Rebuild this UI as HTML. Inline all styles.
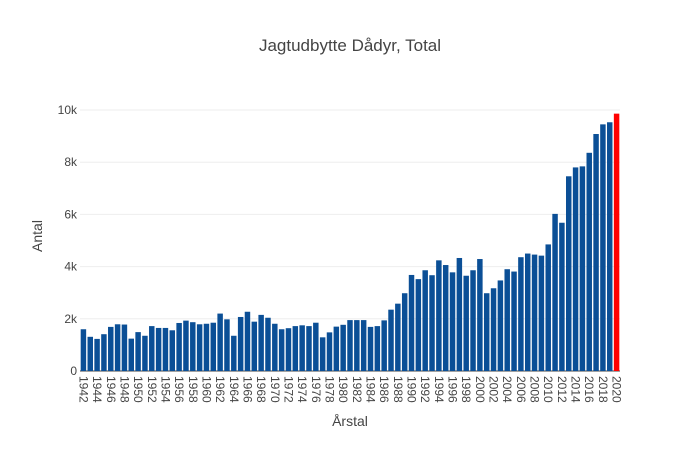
<!DOCTYPE html>
<html><head><meta charset="utf-8"><style>body{margin:0;background:#fff}svg{font-family:"Liberation Sans",sans-serif}</style></head>
<body>
<svg id="c" width="700" height="450" xmlns="http://www.w3.org/2000/svg">
<text x="350" y="51" text-anchor="middle" font-size="17" fill="#444">Jagtudbytte Dådyr, Total</text>
<text x="350" y="426" text-anchor="middle" font-size="14" fill="#444">Årstal</text>
<text transform="translate(42,236) rotate(-90)" text-anchor="middle" font-size="14" fill="#444">Antal</text>
<g id="grid"></g><g id="bars"></g><g id="xt"></g>
</svg>
<script>
const startYear = 1942;
const values = [1.60,1.31,1.23,1.41,1.69,1.79,1.78,1.24,1.49,1.35,1.72,1.65,1.65,1.56,1.84,1.93,1.87,1.79,1.81,1.85,2.20,1.98,1.35,2.07,2.27,1.89,2.15,2.04,1.81,1.60,1.64,1.72,1.75,1.72,1.85,1.29,1.48,1.70,1.77,1.95,1.95,1.95,1.69,1.72,1.94,2.35,2.58,2.98,3.68,3.52,3.86,3.67,4.24,4.06,3.78,4.33,3.65,3.86,4.29,2.98,3.17,3.47,3.90,3.81,4.36,4.50,4.46,4.42,4.85,6.02,5.68,7.46,7.80,7.84,8.36,9.08,9.45,9.53,9.86].map(v=>v*1000);
const yTicks = [0,2000,4000,6000,8000,10000];
const yTickLabels = ["0","2k","4k","6k","8k","10k"];
const NS="http://www.w3.org/2000/svg";
const x0=80,x1=620,y0=371,pxPer=26.1/1000;
const n=values.length,step=(x1-x0)/n;
const yS=v=>y0-v*pxPer;
const xS=i=>x0+i*step;
function mk(t,a,p){const e=document.createElementNS(NS,t);for(const k in a)e.setAttribute(k,a[k]);p.appendChild(e);return e;}
const grid=document.getElementById('grid');
yTicks.forEach((t,i)=>{
  const l=mk('line',{x1:x0,x2:x1,y1:yS(t),y2:yS(t),stroke:i?'#eee':'#444','stroke-width':1},grid);
  
  
  const tx=mk('text',{x:77,y:yS(t)+4,'text-anchor':'end','font-size':12,fill:'#444'},grid);
  tx.textContent=yTickLabels[i];
  
  
});
const bars=document.getElementById('bars');
values.forEach((v,i)=>{
  const r=mk('rect',{x:xS(i)+step*0.1,width:step*0.8,y:yS(v),height:y0-yS(v),fill:i===n-1?'#ff0000':'#0b4f96'},bars);
  
  
});
const xt=document.getElementById('xt');
for(let i=0;i<n;i+=2){
  const cx=xS(i)+step/2-4;
  const t=mk('text',{transform:`translate(${cx},376) rotate(90)`,'font-size':12,fill:'#444'},xt);
  t.textContent=String(startYear+i);
  
  
}
</script>
</body></html>
